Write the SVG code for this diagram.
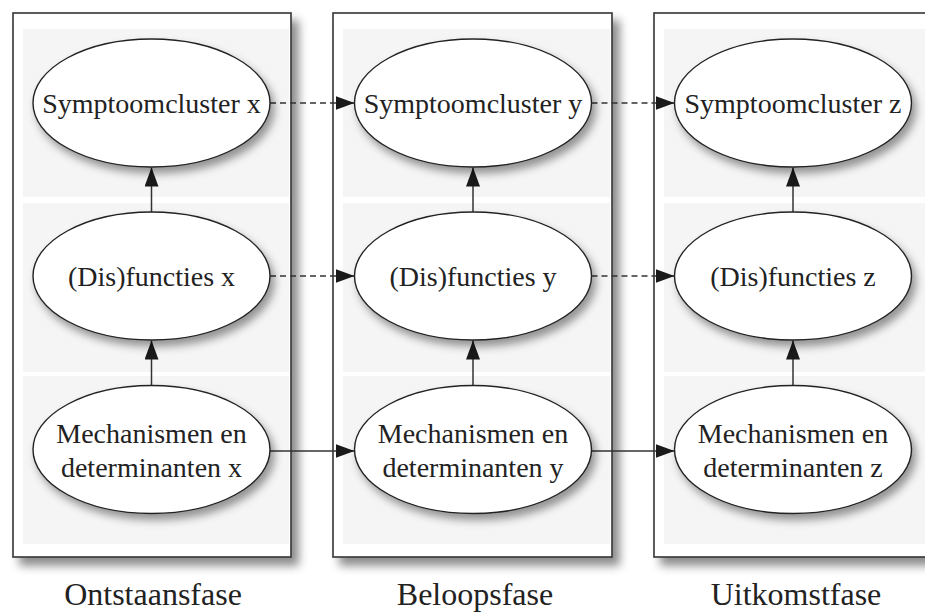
<svg xmlns="http://www.w3.org/2000/svg" width="925" height="613" viewBox="0 0 925 613">
<defs>
<filter id="boxShadow" x="-10%" y="-10%" width="130%" height="130%">
<feDropShadow dx="7" dy="8" stdDeviation="5" flood-color="#000" flood-opacity="0.45"/>
</filter>
<filter id="ellShadow" x="-20%" y="-20%" width="150%" height="160%">
<feDropShadow dx="4" dy="6" stdDeviation="4" flood-color="#000" flood-opacity="0.4"/>
</filter>
<marker id="arrow" markerUnits="userSpaceOnUse" markerWidth="20" markerHeight="14" viewBox="0 0 20 14" refX="19" refY="7" orient="auto">
<path d="M0,0 L19,7 L0,14 z" fill="#1a1a1a"/>
</marker>
<style>
.box{fill:#fff;stroke:#333;stroke-width:1.6;filter:url(#boxShadow)}
.panel{fill:#f5f5f5}
.ell{fill:#fff;stroke:#222;stroke-width:1.4;filter:url(#ellShadow)}
.t{font-family:"Liberation Serif","Times New Roman",serif;font-size:28px;fill:#222;text-anchor:middle}
.lbl{font-family:"Liberation Serif","Times New Roman",serif;font-size:32px;fill:#222;text-anchor:middle}
.solid{stroke:#333;stroke-width:1.5;fill:none;marker-end:url(#arrow)}
.dash{stroke:#333;stroke-width:1.5;fill:none;stroke-dasharray:6 4;marker-end:url(#arrow)}
</style>
</defs>
<rect x="0" y="0" width="925" height="613" fill="#fff"/>

<g id="phase-ontstaan">
<rect class="box" x="13" y="13" width="278" height="544"/>
<rect class="panel" x="23" y="29" width="266" height="168"/>
<rect class="panel" x="23" y="203" width="266" height="169"/>
<rect class="panel" x="23" y="376" width="266" height="168"/>
<text class="lbl" x="153" y="605">Ontstaansfase</text>
</g>
<g id="phase-beloop">
<rect class="box" x="333" y="13" width="279" height="544"/>
<rect class="panel" x="343" y="29" width="267" height="168"/>
<rect class="panel" x="343" y="203" width="267" height="169"/>
<rect class="panel" x="343" y="376" width="267" height="168"/>
<text class="lbl" x="475" y="605">Beloopsfase</text>
</g>
<g id="phase-uitkomst">
<rect class="box" x="654" y="13" width="290" height="544"/>
<rect class="panel" x="664" y="29" width="270" height="168"/>
<rect class="panel" x="664" y="203" width="270" height="169"/>
<rect class="panel" x="664" y="376" width="270" height="168"/>
<text class="lbl" x="796" y="605">Uitkomstfase</text>
</g>

<g id="connectors">
<line class="solid" x1="151.5" y1="212" x2="151.5" y2="167.5"/>
<line class="solid" x1="151.5" y1="385" x2="151.5" y2="340.5"/>
<line class="solid" x1="473" y1="212" x2="473" y2="167.5"/>
<line class="solid" x1="473" y1="385" x2="473" y2="340.5"/>
<line class="solid" x1="793" y1="212" x2="793" y2="167.5"/>
<line class="solid" x1="793" y1="385" x2="793" y2="340.5"/>
<line class="dash" x1="270" y1="103" x2="354.5" y2="103"/>
<line class="dash" x1="591.5" y1="103" x2="674.5" y2="103"/>
<line class="dash" x1="270" y1="276" x2="354.5" y2="276"/>
<line class="dash" x1="591.5" y1="276" x2="674.5" y2="276"/>
<line class="solid" x1="270" y1="451" x2="354.5" y2="451"/>
<line class="solid" x1="591.5" y1="451" x2="674.5" y2="451"/>
</g>

<g id="symptoomcluster-x">
<ellipse class="ell" cx="151.5" cy="103" rx="118.5" ry="64"/>
<text class="t" x="151.5" y="113">Symptoomcluster x</text>
</g>
<g id="disfuncties-x">
<ellipse class="ell" cx="151.5" cy="276" rx="118.5" ry="64"/>
<text class="t" x="151.5" y="286">(Dis)functies x</text>
</g>
<g id="mechanismen-x">
<ellipse class="ell" cx="151.5" cy="449.5" rx="118.5" ry="64"/>
<text class="t" x="151.5" y="443">Mechanismen en</text>
<text class="t" x="151.5" y="477">determinanten x</text>
</g>

<g id="symptoomcluster-y">
<ellipse class="ell" cx="473" cy="103" rx="118.5" ry="64"/>
<text class="t" x="473" y="113">Symptoomcluster y</text>
</g>
<g id="disfuncties-y">
<ellipse class="ell" cx="473" cy="276" rx="118.5" ry="64"/>
<text class="t" x="473" y="286">(Dis)functies y</text>
</g>
<g id="mechanismen-y">
<ellipse class="ell" cx="473" cy="449.5" rx="118.5" ry="64"/>
<text class="t" x="473" y="443">Mechanismen en</text>
<text class="t" x="473" y="477">determinanten y</text>
</g>

<g id="symptoomcluster-z">
<ellipse class="ell" cx="793" cy="103" rx="118.5" ry="64"/>
<text class="t" x="793" y="113">Symptoomcluster z</text>
</g>
<g id="disfuncties-z">
<ellipse class="ell" cx="793" cy="276" rx="118.5" ry="64"/>
<text class="t" x="793" y="286">(Dis)functies z</text>
</g>
<g id="mechanismen-z">
<ellipse class="ell" cx="793" cy="449.5" rx="118.5" ry="64"/>
<text class="t" x="793" y="443">Mechanismen en</text>
<text class="t" x="793" y="477">determinanten z</text>
</g>
</svg>
